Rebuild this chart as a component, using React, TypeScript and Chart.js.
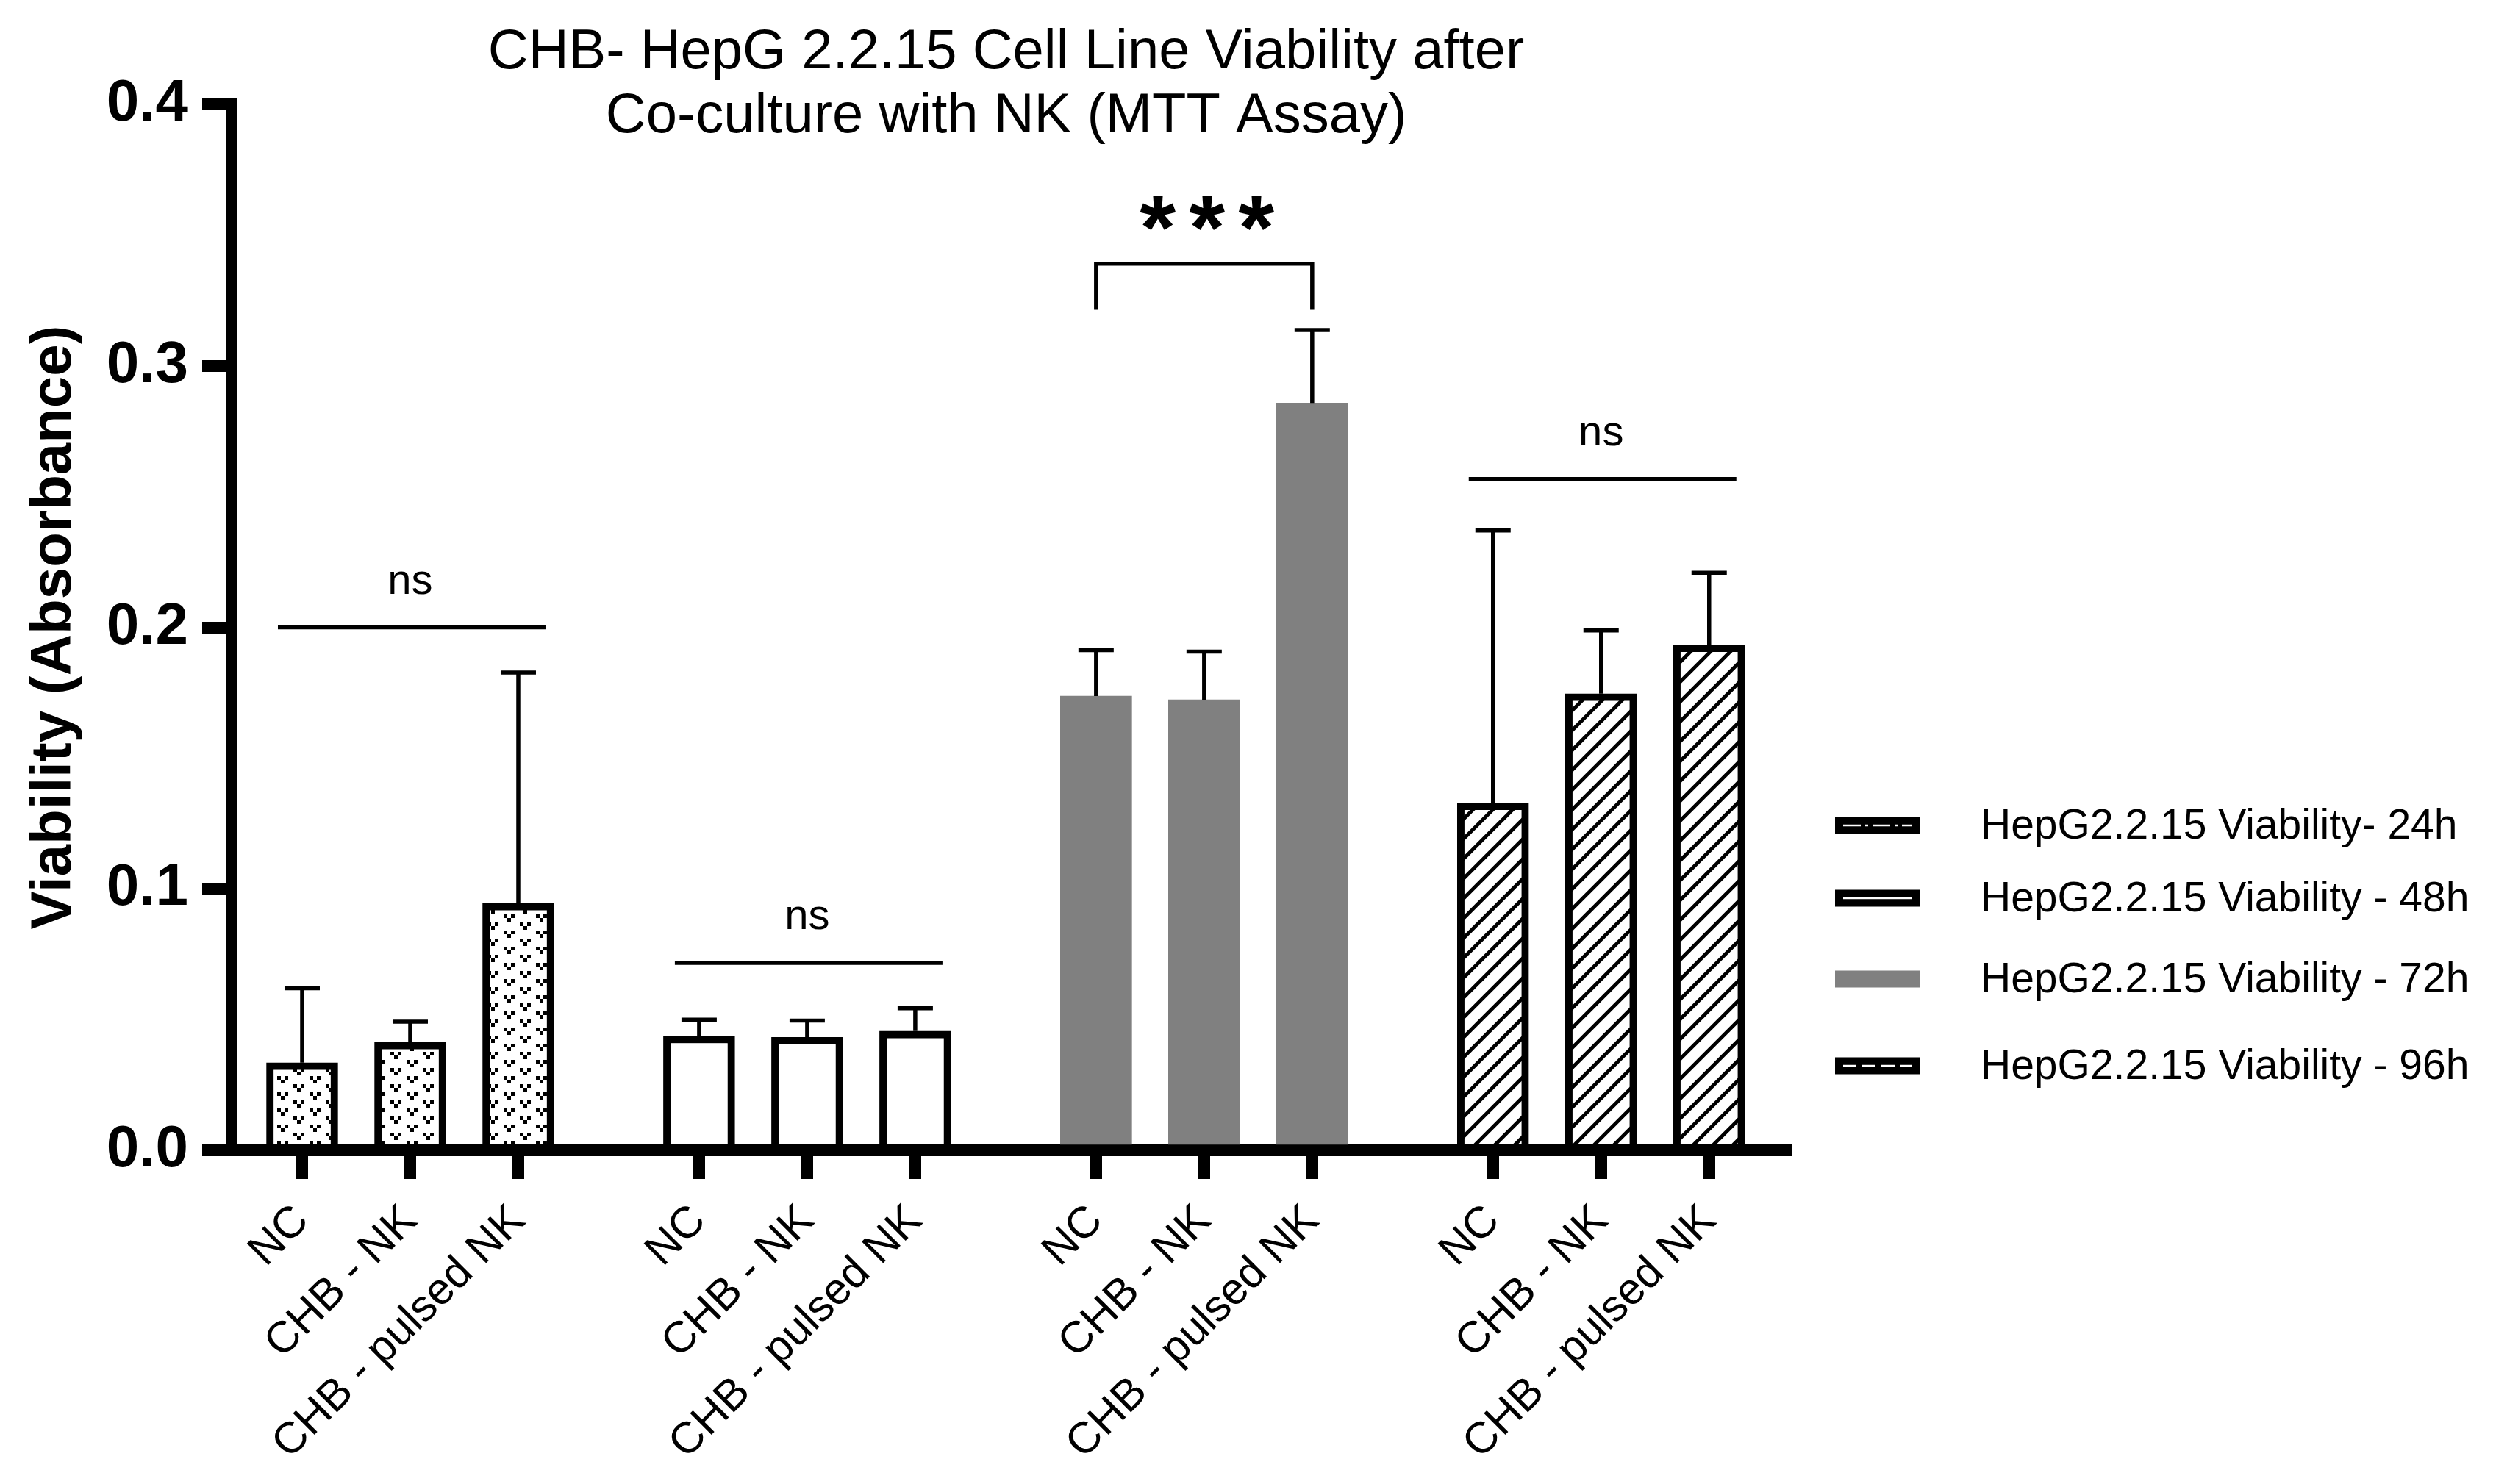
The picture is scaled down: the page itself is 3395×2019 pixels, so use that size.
import React, { useEffect, useRef } from 'react';
import { Chart, registerables, type Plugin } from 'chart.js';

Chart.register(...registerables);

// ---- data ----
const categories = ['NC', 'CHB - NK', 'CHB - pulsed NK'];
const seriesLabels = [
  'HepG2.2.15 Viability- 24h',
  'HepG2.2.15 Viability - 48h',
  'HepG2.2.15 Viability - 72h',
  'HepG2.2.15 Viability - 96h'
];
const mean24h = [0.0335, 0.0414, 0.0945];
const mean48h = [0.0437, 0.0432, 0.0456];
const mean72h = [0.1737, 0.1723, 0.2858];
const mean96h = [0.1329, 0.1746, 0.1933];
const sd24h = [0.0285, 0.0078, 0.0882];
const sd48h = [0.0063, 0.0064, 0.0087];
const sd72h = [0.0176, 0.0184, 0.0279];
const sd96h = [0.1041, 0.0242, 0.0276];
const sigLabels = ['ns', 'ns', '***', 'ns'];
const sigHeights = [0.2, 0.0717, 0.3391, 0.2567];
const sigBracket = [false, false, true, false];
const yTickValues = [0, 0.1, 0.2, 0.3, 0.4];

const means = [mean24h, mean48h, mean72h, mean96h];
const sds = [sd24h, sd48h, sd72h, sd96h];

// ---- layout ----
const FONT = '"Liberation Sans", Arial, Helvetica, sans-serif';
const GROUP_STRIDE = 3.673; // bars are 1 unit apart, groups separated by a wider gap
const X_MIN = -0.653;
const X_MAX = 13.735;
const AXIS_W = 16;
const LEGEND_ROWS = [1123, 1222, 1332, 1450];

const xPos = (g: number, i: number) => g * GROUP_STRIDE + i;

function dotPattern(ctx: CanvasRenderingContext2D) {
  const c = document.createElement('canvas');
  c.width = 44;
  c.height = 22;
  const g = c.getContext('2d')!;
  g.fillStyle = '#fff';
  g.fillRect(0, 0, 44, 22);
  g.fillStyle = '#000';
  const v = (x: number, y: number) => {
    g.fillRect(x, y, 5, 5);
    g.fillRect(x + 10, y, 5, 5);
    g.fillRect(x + 5, y + 5, 5, 5);
  };
  v(3, 1);
  v(25, 12);
  return ctx.createPattern(c, 'repeat')!;
}

function hatchPattern(ctx: CanvasRenderingContext2D) {
  const s = 27;
  const c = document.createElement('canvas');
  c.width = s;
  c.height = s;
  const g = c.getContext('2d')!;
  g.fillStyle = '#fff';
  g.fillRect(0, 0, s, s);
  g.strokeStyle = '#000';
  g.lineWidth = 5;
  g.beginPath();
  g.moveTo(-4, s + 4);
  g.lineTo(s + 4, -4);
  g.moveTo(-6, 6);
  g.lineTo(6, -6);
  g.moveTo(s - 6, s + 6);
  g.lineTo(s + 6, s - 6);
  g.stroke();
  return ctx.createPattern(c, 'repeat')!;
}

const extras: Plugin<'bar'> = {
  id: 'prismExtras',
  afterDatasetsDraw(chart) {
    const { ctx } = chart;
    const y = chart.scales.y;
    ctx.save();
    ctx.strokeStyle = '#000';
    ctx.lineWidth = 5.5;
    means.forEach((_, d) => {
      const meta = chart.getDatasetMeta(d);
      meta.data.forEach((bar: any, i) => {
        const top = y.getPixelForValue(means[d][i] + sds[d][i]);
        ctx.beginPath();
        ctx.moveTo(bar.x, bar.y);
        ctx.lineTo(bar.x, top);
        ctx.moveTo(bar.x - 24, top);
        ctx.lineTo(bar.x + 24, top);
        ctx.stroke();
      });
    });
    ctx.restore();
  },
  afterDraw(chart) {
    const { ctx, chartArea } = chart;
    const x = chart.scales.x;
    const y = chart.scales.y;
    ctx.save();
    ctx.fillStyle = '#000';
    ctx.strokeStyle = '#000';

    // title
    ctx.font = `76px ${FONT}`;
    ctx.textAlign = 'center';
    ctx.textBaseline = 'alphabetic';
    const cx = (chartArea.left + chartArea.right) / 2 - 4;
    ctx.fillText('CHB- HepG 2.2.15 Cell Line Viability after', cx, 93);
    ctx.fillText('Co-culture with NK (MTT Assay)', cx, 180);

    // significance
    ctx.lineWidth = 5.5;
    sigLabels.forEach((lab, g) => {
      const ly = y.getPixelForValue(sigHeights[g]);
      const mid = x.getPixelForValue(xPos(g, 1));
      ctx.beginPath();
      if (sigBracket[g]) {
        const x0 = x.getPixelForValue(xPos(g, 0));
        const x1 = x.getPixelForValue(xPos(g, 2));
        const legY = y.getPixelForValue(sigHeights[g] - 0.0177);
        ctx.moveTo(x0, legY);
        ctx.lineTo(x0, ly);
        ctx.lineTo(x1, ly);
        ctx.lineTo(x1, legY);
        ctx.stroke();
        ctx.font = `bold 126px ${FONT}`;
        ctx.textAlign = 'center';
        [-67, 0, 67].forEach((dx) => ctx.fillText('*', mid + dx + 4, ly - 6));
      } else {
        ctx.moveTo(x.getPixelForValue(xPos(g, 0)) - 33, ly);
        ctx.lineTo(x.getPixelForValue(xPos(g, 2)) + 37, ly);
        ctx.stroke();
        ctx.font = `58px ${FONT}`;
        ctx.textAlign = 'center';
        ctx.fillText(lab, mid, ly - 46);
      }
    });

    // legend
    const sx = chartArea.right + 66;
    const tx = chartArea.right + 264;
    ctx.font = `57px ${FONT}`;
    ctx.textAlign = 'left';
    ctx.textBaseline = 'middle';
    seriesLabels.forEach((lab, k) => {
      const cy = LEGEND_ROWS[k];
      ctx.fillStyle = k === 2 ? '#808080' : '#000';
      ctx.fillRect(sx, cy - 11.5, 115, 23);
      if (k !== 2) {
        ctx.strokeStyle = '#fff';
        ctx.lineWidth = 2.5;
        ctx.setLineDash(k === 0 ? [24, 6, 4, 6] : k === 3 ? [18, 8] : []);
        ctx.beginPath();
        ctx.moveTo(sx + 11, cy);
        ctx.lineTo(sx + 104, cy);
        ctx.stroke();
        ctx.setLineDash([]);
      }
      ctx.fillStyle = '#000';
      ctx.fillText(lab, tx, cy + 2);
    });
    ctx.restore();
  }
};

export default function App() {
  const canvasRef = useRef<HTMLCanvasElement>(null);

  useEffect(() => {
    if (!canvasRef.current) return;
    const ctx = canvasRef.current.getContext('2d');
    if (!ctx) return;

    const fills = [dotPattern(ctx), '#ffffff', '#808080', hatchPattern(ctx)];
    const xTickValues = [0, 1, 2, 3].flatMap((g) => [0, 1, 2].map((i) => xPos(g, i)));

    const chart = new Chart(ctx, {
      type: 'bar',
      data: {
        datasets: means.map((m, d) => ({
          label: seriesLabels[d],
          data: m.map((v, i) => ({ x: xPos(d, i), y: v })),
          backgroundColor: fills[d],
          borderColor: '#000',
          borderWidth: d === 2 ? 0 : 10,
          borderSkipped: 'start' as const,
          barThickness: 97,
          grouped: false
        }))
      },
      options: {
        responsive: true,
        maintainAspectRatio: false,
        animation: false,
        layout: { padding: { top: 142, right: 965, bottom: 0, left: 0 } },
        plugins: {
          legend: { display: false },
          title: { display: false },
          tooltip: { enabled: false }
        },
        scales: {
          x: {
            type: 'linear',
            min: X_MIN,
            max: X_MAX,
            offset: false,
            z: 1,
            afterBuildTicks: (scale: any) => {
              scale.ticks = xTickValues.map((value) => ({ value }));
            },
            afterFit: (scale: any) => {
              scale.height = 454;
            },
            grid: {
              offset: false,
              drawOnChartArea: false,
              drawTicks: true,
              tickLength: 39,
              lineWidth: AXIS_W,
              color: '#000'
            },
            border: { display: true, width: AXIS_W, color: '#000' },
            ticks: {
              autoSkip: false,
              maxRotation: 45,
              minRotation: 45,
              padding: 22,
              color: '#000',
              font: { family: FONT, size: 60 },
              callback: (_v: any, i: number) => categories[i % categories.length]
            }
          },
          y: {
            min: 0,
            max: 0.4,
            z: 1,
            afterBuildTicks: (scale: any) => {
              scale.ticks = yTickValues.map((value) => ({ value }));
            },
            afterFit: (scale: any) => {
              scale.width = 315;
            },
            grid: {
              drawOnChartArea: false,
              drawTicks: true,
              tickLength: 40,
              lineWidth: AXIS_W,
              color: '#000'
            },
            border: { display: true, width: AXIS_W, color: '#000' },
            ticks: {
              padding: 19,
              color: '#000',
              font: { family: FONT, size: 80, weight: 'bold' },
              callback: (v: any) => Number(v).toFixed(1)
            },
            title: {
              display: true,
              text: 'Viability (Absorbance)',
              color: '#000',
              font: { family: FONT, size: 78, weight: 'bold' },
              padding: { top: 28, bottom: 0 }
            }
          }
        }
      },
      plugins: [extras]
    });

    return () => chart.destroy();
  }, []);

  return (
    <div style={{ position: 'fixed', left: 0, top: 0, width: '100vw', height: '100vh', background: '#fff' }}>
      <canvas ref={canvasRef} style={{ display: 'block' }} />
    </div>
  );
}
